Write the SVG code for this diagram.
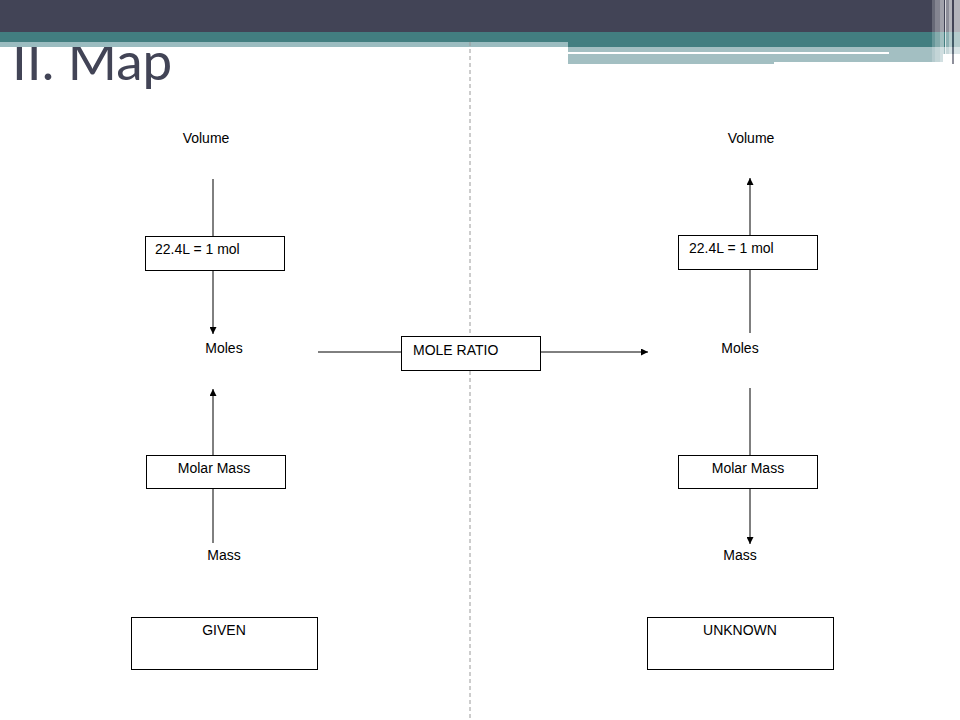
<svg xmlns="http://www.w3.org/2000/svg" width="960" height="720" viewBox="0 0 960 720">
<style>
.lbl{font-family:"Liberation Sans",Arial,sans-serif;font-size:14px;fill:#000}
.box{fill:#fff;stroke:#000;stroke-width:1}
.ln{stroke:#000;stroke-width:1;fill:none}
</style>
<defs>
<marker id="ah" viewBox="0 0 10 10" refX="10" refY="5" markerWidth="8" markerHeight="7" markerUnits="userSpaceOnUse" orient="auto">
<path d="M0,0 L10,5 L0,10 Z" fill="#000"/>
</marker>
</defs>
<rect width="960" height="720" fill="#fff"/>
<text id="title" x="12" y="80" font-family="Lato,'Open Sans',sans-serif" font-size="53" fill="#424456">II. Map</text>
<g id="banner">
<rect x="0" y="0" width="960" height="32" fill="#424456"/>
<rect x="0" y="32" width="960" height="10" fill="#427E80"/>
<rect x="0" y="42" width="568" height="5" fill="#9BBCC0"/>
<rect x="568" y="42" width="392" height="5" fill="#427E80"/>
<rect x="568" y="47" width="392" height="5" fill="#A3BFC2"/>
<rect x="568" y="52" width="321" height="2" fill="#fff"/>
<rect x="889" y="52" width="71" height="2" fill="#A3BFC2"/>
<rect x="568" y="54" width="206" height="10" fill="#A3BFC2"/>
<rect x="774" y="54" width="169" height="8" fill="#A3BFC2"/>
<rect x="932" y="0" width="3" height="64" fill="#fff" opacity="0.2"/>
<rect x="935" y="0" width="5" height="64" fill="#fff" opacity="0.35"/>
<rect x="940" y="0" width="4" height="64" fill="#fff" opacity="0.5"/>
<rect x="945" y="0" width="1" height="64" fill="#fff" opacity="0.8"/>
<rect x="946" y="0" width="3" height="64" fill="#fff" opacity="0.4"/>
<rect x="949" y="0" width="3" height="64" fill="#fff" opacity="0.6"/>
<rect x="952" y="0" width="2" height="64" fill="#424456" opacity="0.6"/>
<rect x="954" y="0" width="6" height="64" fill="#fff" opacity="0.6"/>
</g>
<line id="divider" x1="470" y1="42" x2="470" y2="720" stroke="#9a9a9a" stroke-width="1" stroke-dasharray="4 3"/>
<g id="connectors">
<line class="ln" x1="213" y1="179" x2="213" y2="236"/>
<line class="ln" x1="213" y1="270" x2="213" y2="334" marker-end="url(#ah)"/>
<line class="ln" x1="213" y1="455" x2="213" y2="389" marker-end="url(#ah)"/>
<line class="ln" x1="213" y1="488" x2="213" y2="543"/>
<line class="ln" x1="318" y1="352" x2="401" y2="352"/>
<line class="ln" x1="540" y1="352" x2="648" y2="352" marker-end="url(#ah)"/>
<line class="ln" x1="750" y1="235" x2="750" y2="178" marker-end="url(#ah)"/>
<line class="ln" x1="750" y1="269" x2="750" y2="333"/>
<line class="ln" x1="750" y1="388" x2="750" y2="455"/>
<line class="ln" x1="750" y1="488" x2="750" y2="544" marker-end="url(#ah)"/>
</g>
<g id="volume-left"><text class="lbl" x="206" y="143" text-anchor="middle">Volume</text></g>
<g id="conv-left"><rect class="box" x="145.500" y="236.500" width="139" height="34"/><text class="lbl" x="155" y="254">22.4L = 1 mol</text></g>
<g id="moles-left"><text class="lbl" x="224" y="353" text-anchor="middle">Moles</text></g>
<g id="molar-left"><rect class="box" x="146.500" y="455.500" width="139" height="33"/><text class="lbl" x="214" y="473" text-anchor="middle">Molar Mass</text></g>
<g id="mass-left"><text class="lbl" x="224" y="560" text-anchor="middle">Mass</text></g>
<g id="given"><rect class="box" x="131.500" y="617.500" width="186" height="52"/><text class="lbl" x="224" y="635" text-anchor="middle">GIVEN</text></g>
<g id="ratio"><rect class="box" x="401.500" y="336.500" width="139" height="34"/><text class="lbl" x="413" y="355">MOLE RATIO</text></g>
<g id="volume-right"><text class="lbl" x="751" y="143" text-anchor="middle">Volume</text></g>
<g id="conv-right"><rect class="box" x="678.500" y="235.500" width="139" height="34"/><text class="lbl" x="689" y="253">22.4L = 1 mol</text></g>
<g id="moles-right"><text class="lbl" x="740" y="353" text-anchor="middle">Moles</text></g>
<g id="molar-right"><rect class="box" x="678.500" y="455.500" width="139" height="33"/><text class="lbl" x="748" y="473" text-anchor="middle">Molar Mass</text></g>
<g id="mass-right"><text class="lbl" x="740" y="560" text-anchor="middle">Mass</text></g>
<g id="unknown"><rect class="box" x="647.500" y="617.500" width="186" height="52"/><text class="lbl" x="740" y="635" text-anchor="middle">UNKNOWN</text></g>
</svg>
